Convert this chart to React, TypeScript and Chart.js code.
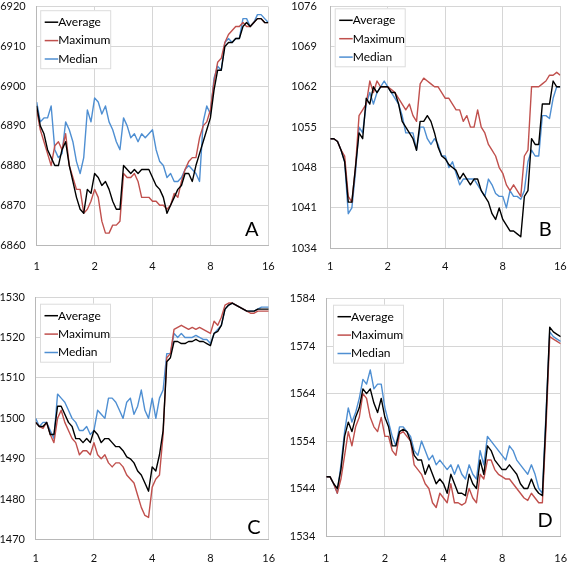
import { useEffect, useRef } from "react";
import { Chart, registerables } from "chart.js";
Chart.register(...registerables);

Chart.defaults.font.family = 'Lato, "Noto Sans", sans-serif';

// shared x positions (log-spaced sampling between 1 and 16)
const X_STEPS = [
  1, 1.044, 1.091, 1.139, 1.189, 1.242, 1.297, 1.354, 1.414, 1.477, 1.542, 1.61, 1.682, 1.756, 1.834, 1.915,
  2, 2.089, 2.181, 2.278, 2.378, 2.484, 2.594, 2.709, 2.828, 2.954, 3.084, 3.221, 3.364, 3.513, 3.668, 3.83,
  4, 4.177, 4.362, 4.555, 4.757, 4.967, 5.187, 5.417, 5.657, 5.907, 6.169, 6.442, 6.727, 7.025, 7.336, 7.661,
  8, 8.354, 8.724, 9.11, 9.514, 9.935, 10.375, 10.834, 11.314, 11.815, 12.338, 12.884, 13.454, 14.05, 14.672, 15.322, 16,
];
const X_TICKS = [1, 2, 4, 8, 16];
const SERIES = ["Average", "Maximum", "Median"];

// Panel A
const A_TICKS = [6860, 6870, 6880, 6890, 6900, 6910, 6920];
const A_AVG = [
  6895, 6890, 6888, 6884, 6882, 6880, 6880, 6884, 6886, 6880, 6876, 6872, 6869, 6868, 6874, 6873, 6878,
  6877, 6875, 6876, 6874, 6871, 6869, 6869, 6880, 6879, 6878, 6879, 6878, 6879, 6879, 6879, 6877,
  6875, 6874, 6872, 6868, 6870, 6872, 6874, 6875, 6878, 6878, 6876, 6880, 6883, 6886, 6889, 6892,
  6899, 6904, 6904, 6910, 6911, 6911, 6912, 6912, 6915, 6916, 6915, 6916, 6917, 6917, 6916, 6916,
];
const A_MAX = [
  6894, 6889, 6886, 6883, 6880, 6885, 6886, 6884, 6888, 6880, 6877, 6874, 6874, 6868, 6869, 6871, 6874,
  6872, 6866, 6863, 6863, 6865, 6865, 6866, 6878, 6877, 6877, 6878, 6876, 6872, 6872, 6872, 6871,
  6871, 6870, 6870, 6869, 6870, 6873, 6872, 6876, 6879, 6881, 6882, 6882, 6887, 6890, 6891, 6894,
  6901, 6906, 6907, 6911, 6913, 6914, 6915, 6915, 6916, 6915, 6915, 6916, 6917, 6917, 6916, 6916,
];
const A_MED = [
  6896, 6891, 6892, 6892, 6895, 6884, 6882, 6883, 6891, 6889, 6886, 6881, 6878, 6882, 6894, 6891, 6897,
  6896, 6893, 6895, 6891, 6889, 6886, 6884, 6892, 6890, 6887, 6888, 6886, 6888, 6887, 6888, 6889,
  6884, 6881, 6880, 6877, 6878, 6876, 6876, 6877, 6879, 6880, 6879, 6878, 6876, 6891, 6895, 6893,
  6902, 6905, 6904, 6911, 6912, 6911, 6912, 6912, 6917, 6917, 6915, 6916, 6918, 6918, 6917, 6916,
];

// Panel B
const B_TICKS = [1034, 1041, 1048, 1055, 1062, 1069, 1076];
const B_AVG = [
  1053, 1053, 1052.5, 1051, 1049, 1042, 1042, 1048, 1054, 1053, 1060, 1059, 1062, 1061, 1062, 1062, 1062,
  1061, 1061, 1059, 1056, 1055, 1054, 1053, 1051, 1056, 1056, 1057, 1056, 1054, 1051.5, 1050, 1049.5,
  1048.5, 1048, 1047.5, 1046, 1047, 1046, 1045, 1046, 1046, 1044, 1043, 1042, 1040, 1039, 1041, 1039,
  1038, 1037, 1037, 1036.5, 1036, 1043, 1044, 1053, 1052, 1052, 1059, 1059, 1059, 1063, 1062, 1062,
];
const B_MAX = [
  1053, 1053, 1052.5, 1051, 1050, 1043, 1042, 1048, 1057, 1058, 1059, 1063, 1061, 1063, 1062, 1062, 1062,
  1061.5, 1061, 1060, 1059, 1058, 1059, 1057, 1056, 1062.5, 1063.5, 1063, 1062.5, 1062, 1062, 1061, 1060,
  1060, 1059, 1058, 1058, 1056, 1057, 1055, 1055, 1058, 1055, 1054, 1052, 1051, 1050, 1048, 1047,
  1045, 1044, 1045, 1044, 1043, 1050, 1051, 1062, 1062, 1062, 1062.5, 1063, 1064, 1064, 1064.5, 1064,
];
const B_MED = [
  1053, 1053, 1052.5, 1051, 1049, 1040, 1041, 1047, 1055, 1054, 1059, 1061, 1059, 1061, 1062, 1063, 1062,
  1061, 1060, 1059, 1057, 1054, 1054, 1054, 1051, 1055, 1055, 1053, 1052, 1053, 1052, 1050, 1050,
  1048, 1049, 1047, 1045, 1046, 1046, 1046, 1046, 1045, 1044, 1043, 1046, 1045, 1043.5, 1043, 1043,
  1041, 1044, 1043, 1043, 1042.5, 1044, 1049, 1051, 1050, 1050, 1057, 1057, 1056.5, 1060, 1062, 1062,
];

// Panel C
const C_TICKS = [1470, 1480, 1490, 1500, 1510, 1520, 1530];
const C_AVG = [
  1499, 1498, 1498, 1499, 1496, 1496, 1503, 1503, 1501, 1499, 1498, 1495, 1495, 1494, 1495, 1494, 1497,
  1496, 1494, 1495, 1495, 1494, 1493, 1493, 1492, 1490.5, 1490, 1489, 1487, 1486, 1484, 1482, 1488,
  1487, 1491, 1497, 1514, 1515, 1519, 1519, 1518.5, 1518.5, 1519, 1519, 1519.5, 1519, 1519, 1518.5, 1518,
  1521, 1521.5, 1523, 1527, 1528, 1528.5, 1528, 1527.5, 1527, 1526.5, 1526.5, 1526.5, 1527, 1527, 1527, 1527,
];
const C_MAX = [
  1499, 1498, 1497.5, 1499, 1496, 1494, 1500, 1502, 1499, 1497, 1495, 1494, 1491, 1492, 1492, 1491, 1494,
  1491, 1490, 1491, 1489, 1488, 1489, 1489, 1488, 1486, 1485, 1484, 1481, 1478, 1476, 1475.5, 1483,
  1485, 1486, 1496, 1515, 1516, 1522, 1522.5, 1523, 1522.5, 1522, 1522.5, 1522, 1522.5, 1522, 1521.5, 1521,
  1524, 1523, 1525, 1528, 1528.5, 1528.5, 1528, 1527.5, 1527, 1526.5, 1526, 1526, 1526.5, 1526.5, 1526.5, 1526.5,
];
const C_MED = [
  1500, 1498, 1499, 1499, 1497, 1495, 1506, 1505, 1504, 1502, 1500, 1499, 1497, 1497, 1498, 1496, 1497,
  1502, 1501, 1500, 1505, 1505, 1504, 1502, 1500, 1504, 1505, 1501, 1503, 1507, 1502, 1500, 1505,
  1500, 1505, 1507, 1516, 1516, 1521, 1520, 1521, 1520, 1520, 1520, 1520.5, 1520, 1519.5, 1519.5, 1518.5,
  1521, 1522, 1523, 1527, 1528, 1528.5, 1528, 1527.5, 1527, 1526.5, 1526.5, 1526.5, 1527, 1527.5, 1527.5, 1527.5,
];

// Panel D
const D_TICKS = [1534, 1544, 1554, 1564, 1574, 1584];
const D_AVG = [
  1546.5, 1546.5, 1545, 1544, 1548, 1555, 1558, 1556, 1559, 1561, 1565, 1564, 1565, 1562, 1560, 1563, 1559,
  1557, 1553, 1553, 1556, 1556.5, 1556, 1554, 1551, 1550, 1550, 1547, 1549, 1547, 1545, 1546, 1545,
  1543, 1547, 1545, 1543, 1543, 1542.5, 1547, 1545, 1544, 1550, 1547, 1553, 1552, 1550, 1549, 1548,
  1548, 1549, 1548, 1547, 1545, 1544, 1544, 1546, 1544, 1543, 1542.5, 1559, 1578, 1577, 1576.5, 1576,
];
const D_MAX = [
  1546.5, 1546.5, 1545, 1543, 1546, 1551, 1556, 1553, 1557, 1559, 1564, 1563, 1559, 1557, 1556, 1559, 1555,
  1555, 1552, 1551, 1555.5, 1556, 1555, 1554, 1549, 1548, 1547, 1545, 1544, 1541, 1540, 1543, 1542,
  1541, 1545, 1541, 1541, 1540.5, 1541, 1544, 1542, 1541, 1547, 1546, 1550, 1550, 1548, 1547, 1546.5,
  1546, 1546, 1545, 1544, 1543, 1542, 1541.5, 1543, 1542, 1541, 1541, 1557, 1576, 1575.5, 1575, 1574.5,
];
const D_MED = [
  1546.5, 1546.5, 1545, 1543, 1549, 1556, 1561, 1558, 1560, 1563, 1567, 1566, 1569, 1565, 1566, 1566, 1561,
  1558, 1555, 1553, 1557, 1557, 1556, 1555, 1552, 1551, 1554, 1552, 1550, 1551, 1549, 1550, 1549,
  1548, 1549, 1547, 1549, 1547, 1546, 1549, 1547, 1546, 1552, 1549, 1555, 1554, 1553, 1552, 1551,
  1550, 1553, 1552, 1550, 1549, 1548, 1547, 1549, 1547, 1544, 1543, 1560, 1577, 1576, 1575.5, 1575,
];

const COLORS = ["#000000", "#c0504d", "#4f8fd2"];
const GRID = "#d6d6d6";
const AXIS = "#b8b8b8";

interface Panel {
  letter: string;
  ticks: number[];
  series: number[][];
  left: number; top: number; w: number; h: number;
  padTop: number; padRight: number; yWidth: number; xHeight: number;
  xPad: number; yPad: number;
  legendDx: number; legendDy: number;
  letterDx: number; letterDy: number;
}

const PANELS: Panel[] = [
  { letter: "A", ticks: A_TICKS, series: [A_AVG, A_MAX, A_MED], left: 0, top: 0, w: 283, h: 282,
    padTop: 6.7, padRight: 14.7, yWidth: 36.7, xHeight: 37, xPad: 14.5, yPad: 11,
    legendDx: 3.5, legendDy: 3.5, letterDx: -16.6, letterDy: -15 },
  { letter: "B", ticks: B_TICKS, series: [B_AVG, B_MAX, B_MED], left: 283, top: 0, w: 284, h: 282,
    padTop: 6, padRight: 6.7, yWidth: 47.3, xHeight: 33.7, xPad: 12, yPad: 13.5,
    legendDx: 4.4, legendDy: 2.3, letterDx: -15, letterDy: -19 },
  { letter: "C", ticks: C_TICKS, series: [C_AVG, C_MAX, C_MED], left: 0, top: 282, w: 283, h: 282,
    padTop: 15, padRight: 14.3, yWidth: 35.7, xHeight: 24.3, xPad: 12.5, yPad: 10.7,
    legendDx: 4.3, legendDy: 6.7, letterDx: -14.7, letterDy: -11.7 },
  { letter: "D", ticks: D_TICKS, series: [D_AVG, D_MAX, D_MED], left: 283, top: 282, w: 284, h: 282,
    padTop: 16.7, padRight: 6.3, yWidth: 43.3, xHeight: 28, xPad: 15.5, yPad: 11,
    legendDx: 6.7, legendDy: 6, letterDx: -15.7, letterDy: -15 },
];

const decor = {
  id: "panelDecor",
  afterDatasetsDraw(chart: any, _args: any, opts: any) {
    const { ctx, chartArea } = chart;
    ctx.save();
    // legend box
    const bx = chartArea.left + opts.legendDx;
    const by = chartArea.top + opts.legendDy;
    ctx.fillStyle = "#ffffff";
    ctx.fillRect(bx, by, 70, 58);
    ctx.strokeStyle = "#dcdcdc";
    ctx.lineWidth = 1;
    ctx.strokeRect(bx + 0.5, by + 0.5, 70, 58);
    ctx.font = '12px Lato, "Noto Sans", sans-serif';
    ctx.textBaseline = "middle";
    ctx.textAlign = "left";
    SERIES.forEach((name, i) => {
      const ry = by + 12 + i * 18.4;
      ctx.strokeStyle = COLORS[i];
      ctx.lineWidth = 1.5;
      ctx.beginPath();
      ctx.moveTo(bx + 4.5, ry);
      ctx.lineTo(bx + 18, ry);
      ctx.stroke();
      ctx.fillStyle = "#000";
      ctx.fillText(name, bx + 18, ry);
    });
    // panel letter
    ctx.font = '20px Lato, "Noto Sans", sans-serif';
    ctx.textAlign = "center";
    ctx.fillStyle = "#000";
    ctx.fillText(opts.letter, chartArea.right + opts.letterDx, chartArea.bottom + opts.letterDy);
    ctx.restore();
  },
};

function PanelChart({ p }: { p: Panel }) {
  const ref = useRef<HTMLCanvasElement>(null);
  useEffect(() => {
    if (!ref.current) return;
    const chart = new Chart(ref.current, {
      type: "line",
      data: {
        datasets: p.series.map((vals, i) => ({
          label: SERIES[i],
          data: vals.map((y, j) => ({ x: X_STEPS[j], y })),
          borderColor: COLORS[i],
          borderWidth: 1.4,
          pointRadius: 0,
          tension: 0,
          borderJoinStyle: "round" as const,
        })),
      },
      options: {
        animation: false,
        responsive: false,
        layout: { padding: { top: p.padTop, right: p.padRight, left: 0, bottom: 0 } },
        plugins: {
          legend: { display: false },
          tooltip: { enabled: false },
          panelDecor: p,
        } as any,
        scales: {
          x: {
            type: "logarithmic",
            min: 1,
            max: 16,
            afterBuildTicks: (s: any) => { s.ticks = X_TICKS.map(v => ({ value: v })); },
            afterFit: (s: any) => {
              s.height = p.xHeight;
              s.paddingLeft = 0; s.paddingRight = 0; s.paddingTop = 0; s.paddingBottom = 0;
            },
            ticks: {
              callback: (v: any) => String(v),
              autoSkip: false,
              maxRotation: 0,
              padding: p.xPad,
              color: "#111",
              font: { size: 11 },
            },
            grid: { color: GRID, drawTicks: false },
            border: { color: AXIS },
          },
          y: {
            type: "linear",
            min: p.ticks[0],
            max: p.ticks[p.ticks.length - 1],
            afterBuildTicks: (s: any) => { s.ticks = p.ticks.map(v => ({ value: v })); },
            afterFit: (s: any) => {
              s.width = p.yWidth;
              s.paddingLeft = 0; s.paddingRight = 0; s.paddingTop = 0; s.paddingBottom = 0;
            },
            ticks: {
              callback: (v: any) => String(v),
              padding: p.yPad,
              color: "#111",
              font: { size: 11 },
            },
            grid: { color: GRID, drawTicks: false },
            border: { color: AXIS },
          },
        },
      },
      plugins: [decor],
    });
    return () => chart.destroy();
  }, [p]);

  return (
    <div style={{ position: "absolute", left: p.left, top: p.top, width: p.w, height: p.h }}>
      <canvas ref={ref} width={p.w} height={p.h} style={{ width: p.w, height: p.h }} />
    </div>
  );
}

export default function App() {
  return (
    <div style={{ position: "fixed", left: 0, top: 0, width: 567, height: 564, background: "#fff" }}>
      {PANELS.map(p => <PanelChart key={p.letter} p={p} />)}
    </div>
  );
}
